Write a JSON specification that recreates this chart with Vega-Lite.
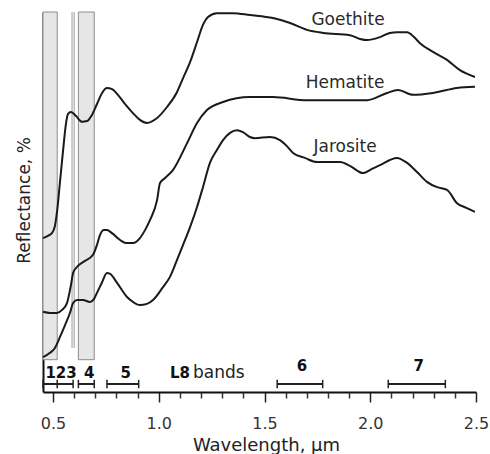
{
  "$schema": "https://vega.github.io/schema/vega-lite/v6.json",
  "width": 433,
  "height": 380,
  "autosize": "none",
  "padding": {"left": 43, "top": 12, "right": 14, "bottom": 62},
  "background": "white",
  "config": {"view": {"stroke": null}, "font": "DejaVu Sans"},
  "resolve": {"axis": {"x": "independent"}},
  "datasets": {
    "windows": [
      {"start": 0.4527, "end": 0.52},
      {"start": 0.62, "end": 0.695}
    ],
    "edges": [
      {"at": 0.59},
      {"at": 0.60}
    ],
    "bands": [
      {"label": "123", "start": 0.4527, "end": 0.595, "tier": "low"},
      {"label": "4", "start": 0.62, "end": 0.695, "tier": "low"},
      {"label": "5", "start": 0.755, "end": 0.905, "tier": "low"},
      {"label": "6", "start": 1.56, "end": 1.775, "tier": "high"},
      {"label": "7", "start": 2.085, "end": 2.355, "tier": "high"}
    ],
    "names": [
      {"mineral": "Goethite", "wavelength": 1.895, "reflectance": 97.9},
      {"mineral": "Hematite", "wavelength": 1.881, "reflectance": 81.3},
      {"mineral": "Jarosite", "wavelength": 1.881, "reflectance": 64.5}
    ],
    "spectra": [
      {"mineral": "Goethite", "wavelength": 0.453, "reflectance": 40.5},
      {"mineral": "Goethite", "wavelength": 0.476, "reflectance": 41.1},
      {"mineral": "Goethite", "wavelength": 0.495, "reflectance": 41.8},
      {"mineral": "Goethite", "wavelength": 0.509, "reflectance": 43.7},
      {"mineral": "Goethite", "wavelength": 0.519, "reflectance": 47.4},
      {"mineral": "Goethite", "wavelength": 0.533, "reflectance": 55.3},
      {"mineral": "Goethite", "wavelength": 0.547, "reflectance": 63.2},
      {"mineral": "Goethite", "wavelength": 0.561, "reflectance": 70.5},
      {"mineral": "Goethite", "wavelength": 0.571, "reflectance": 73.2},
      {"mineral": "Goethite", "wavelength": 0.585, "reflectance": 73.7},
      {"mineral": "Goethite", "wavelength": 0.609, "reflectance": 72.6},
      {"mineral": "Goethite", "wavelength": 0.637, "reflectance": 71.1},
      {"mineral": "Goethite", "wavelength": 0.661, "reflectance": 71.3},
      {"mineral": "Goethite", "wavelength": 0.684, "reflectance": 72.9},
      {"mineral": "Goethite", "wavelength": 0.708, "reflectance": 75.8},
      {"mineral": "Goethite", "wavelength": 0.732, "reflectance": 78.7},
      {"mineral": "Goethite", "wavelength": 0.755, "reflectance": 80.0},
      {"mineral": "Goethite", "wavelength": 0.779, "reflectance": 79.7},
      {"mineral": "Goethite", "wavelength": 0.807, "reflectance": 78.2},
      {"mineral": "Goethite", "wavelength": 0.840, "reflectance": 75.8},
      {"mineral": "Goethite", "wavelength": 0.878, "reflectance": 73.4},
      {"mineral": "Goethite", "wavelength": 0.911, "reflectance": 71.6},
      {"mineral": "Goethite", "wavelength": 0.944, "reflectance": 70.8},
      {"mineral": "Goethite", "wavelength": 0.992, "reflectance": 72.1},
      {"mineral": "Goethite", "wavelength": 1.039, "reflectance": 75.0},
      {"mineral": "Goethite", "wavelength": 1.086, "reflectance": 78.9},
      {"mineral": "Goethite", "wavelength": 1.115, "reflectance": 82.6},
      {"mineral": "Goethite", "wavelength": 1.148, "reflectance": 86.8},
      {"mineral": "Goethite", "wavelength": 1.181, "reflectance": 92.1},
      {"mineral": "Goethite", "wavelength": 1.209, "reflectance": 96.6},
      {"mineral": "Goethite", "wavelength": 1.233, "reflectance": 98.7},
      {"mineral": "Goethite", "wavelength": 1.275, "reflectance": 99.7},
      {"mineral": "Goethite", "wavelength": 1.351, "reflectance": 99.7},
      {"mineral": "Goethite", "wavelength": 1.431, "reflectance": 99.2},
      {"mineral": "Goethite", "wavelength": 1.540, "reflectance": 98.4},
      {"mineral": "Goethite", "wavelength": 1.621, "reflectance": 97.1},
      {"mineral": "Goethite", "wavelength": 1.701, "reflectance": 95.3},
      {"mineral": "Goethite", "wavelength": 1.777, "reflectance": 94.5},
      {"mineral": "Goethite", "wavelength": 1.904, "reflectance": 93.9},
      {"mineral": "Goethite", "wavelength": 1.952, "reflectance": 92.9},
      {"mineral": "Goethite", "wavelength": 1.985, "reflectance": 92.6},
      {"mineral": "Goethite", "wavelength": 2.046, "reflectance": 93.4},
      {"mineral": "Goethite", "wavelength": 2.093, "reflectance": 94.5},
      {"mineral": "Goethite", "wavelength": 2.126, "reflectance": 94.7},
      {"mineral": "Goethite", "wavelength": 2.174, "reflectance": 94.7},
      {"mineral": "Goethite", "wavelength": 2.207, "reflectance": 93.4},
      {"mineral": "Goethite", "wavelength": 2.235, "reflectance": 91.8},
      {"mineral": "Goethite", "wavelength": 2.297, "reflectance": 89.5},
      {"mineral": "Goethite", "wavelength": 2.363, "reflectance": 87.4},
      {"mineral": "Goethite", "wavelength": 2.424, "reflectance": 84.7},
      {"mineral": "Goethite", "wavelength": 2.495, "reflectance": 82.9},
      {"mineral": "Hematite", "wavelength": 0.453, "reflectance": 21.1},
      {"mineral": "Hematite", "wavelength": 0.486, "reflectance": 20.8},
      {"mineral": "Hematite", "wavelength": 0.519, "reflectance": 20.8},
      {"mineral": "Hematite", "wavelength": 0.543, "reflectance": 21.6},
      {"mineral": "Hematite", "wavelength": 0.566, "reflectance": 23.4},
      {"mineral": "Hematite", "wavelength": 0.585, "reflectance": 28.2},
      {"mineral": "Hematite", "wavelength": 0.595, "reflectance": 31.3},
      {"mineral": "Hematite", "wavelength": 0.613, "reflectance": 32.9},
      {"mineral": "Hematite", "wavelength": 0.651, "reflectance": 34.5},
      {"mineral": "Hematite", "wavelength": 0.689, "reflectance": 36.1},
      {"mineral": "Hematite", "wavelength": 0.708, "reflectance": 38.7},
      {"mineral": "Hematite", "wavelength": 0.722, "reflectance": 41.3},
      {"mineral": "Hematite", "wavelength": 0.741, "reflectance": 42.6},
      {"mineral": "Hematite", "wavelength": 0.755, "reflectance": 42.6},
      {"mineral": "Hematite", "wavelength": 0.779, "reflectance": 41.8},
      {"mineral": "Hematite", "wavelength": 0.817, "reflectance": 40.0},
      {"mineral": "Hematite", "wavelength": 0.845, "reflectance": 39.2},
      {"mineral": "Hematite", "wavelength": 0.878, "reflectance": 39.2},
      {"mineral": "Hematite", "wavelength": 0.911, "reflectance": 40.5},
      {"mineral": "Hematite", "wavelength": 0.935, "reflectance": 42.6},
      {"mineral": "Hematite", "wavelength": 0.959, "reflectance": 45.3},
      {"mineral": "Hematite", "wavelength": 0.992, "reflectance": 50.5},
      {"mineral": "Hematite", "wavelength": 1.006, "reflectance": 55.0},
      {"mineral": "Hematite", "wavelength": 1.030, "reflectance": 56.3},
      {"mineral": "Hematite", "wavelength": 1.067, "reflectance": 58.4},
      {"mineral": "Hematite", "wavelength": 1.134, "reflectance": 65.5},
      {"mineral": "Hematite", "wavelength": 1.181, "reflectance": 70.8},
      {"mineral": "Hematite", "wavelength": 1.228, "reflectance": 74.2},
      {"mineral": "Hematite", "wavelength": 1.304, "reflectance": 76.3},
      {"mineral": "Hematite", "wavelength": 1.431, "reflectance": 77.6},
      {"mineral": "Hematite", "wavelength": 1.540, "reflectance": 77.6},
      {"mineral": "Hematite", "wavelength": 1.701, "reflectance": 76.8},
      {"mineral": "Hematite", "wavelength": 1.857, "reflectance": 76.8},
      {"mineral": "Hematite", "wavelength": 1.985, "reflectance": 76.8},
      {"mineral": "Hematite", "wavelength": 2.079, "reflectance": 78.7},
      {"mineral": "Hematite", "wavelength": 2.131, "reflectance": 79.5},
      {"mineral": "Hematite", "wavelength": 2.202, "reflectance": 78.2},
      {"mineral": "Hematite", "wavelength": 2.297, "reflectance": 78.7},
      {"mineral": "Hematite", "wavelength": 2.410, "reflectance": 80.0},
      {"mineral": "Hematite", "wavelength": 2.495, "reflectance": 80.3},
      {"mineral": "Jarosite", "wavelength": 0.453, "reflectance": 9.2},
      {"mineral": "Jarosite", "wavelength": 0.486, "reflectance": 10.3},
      {"mineral": "Jarosite", "wavelength": 0.509, "reflectance": 11.6},
      {"mineral": "Jarosite", "wavelength": 0.533, "reflectance": 14.5},
      {"mineral": "Jarosite", "wavelength": 0.557, "reflectance": 17.6},
      {"mineral": "Jarosite", "wavelength": 0.580, "reflectance": 20.8},
      {"mineral": "Jarosite", "wavelength": 0.595, "reflectance": 23.4},
      {"mineral": "Jarosite", "wavelength": 0.613, "reflectance": 24.2},
      {"mineral": "Jarosite", "wavelength": 0.642, "reflectance": 24.2},
      {"mineral": "Jarosite", "wavelength": 0.675, "reflectance": 23.7},
      {"mineral": "Jarosite", "wavelength": 0.694, "reflectance": 24.5},
      {"mineral": "Jarosite", "wavelength": 0.708, "reflectance": 26.1},
      {"mineral": "Jarosite", "wavelength": 0.732, "reflectance": 28.9},
      {"mineral": "Jarosite", "wavelength": 0.755, "reflectance": 31.3},
      {"mineral": "Jarosite", "wavelength": 0.770, "reflectance": 31.1},
      {"mineral": "Jarosite", "wavelength": 0.803, "reflectance": 28.7},
      {"mineral": "Jarosite", "wavelength": 0.850, "reflectance": 25.0},
      {"mineral": "Jarosite", "wavelength": 0.878, "reflectance": 23.7},
      {"mineral": "Jarosite", "wavelength": 0.911, "reflectance": 22.9},
      {"mineral": "Jarosite", "wavelength": 0.944, "reflectance": 23.2},
      {"mineral": "Jarosite", "wavelength": 0.973, "reflectance": 24.2},
      {"mineral": "Jarosite", "wavelength": 1.020, "reflectance": 27.6},
      {"mineral": "Jarosite", "wavelength": 1.053, "reflectance": 30.3},
      {"mineral": "Jarosite", "wavelength": 1.086, "reflectance": 34.7},
      {"mineral": "Jarosite", "wavelength": 1.115, "reflectance": 38.7},
      {"mineral": "Jarosite", "wavelength": 1.148, "reflectance": 43.4},
      {"mineral": "Jarosite", "wavelength": 1.181, "reflectance": 48.7},
      {"mineral": "Jarosite", "wavelength": 1.209, "reflectance": 53.9},
      {"mineral": "Jarosite", "wavelength": 1.242, "reflectance": 60.3},
      {"mineral": "Jarosite", "wavelength": 1.275, "reflectance": 63.7},
      {"mineral": "Jarosite", "wavelength": 1.304, "reflectance": 66.3},
      {"mineral": "Jarosite", "wavelength": 1.337, "reflectance": 68.2},
      {"mineral": "Jarosite", "wavelength": 1.370, "reflectance": 68.9},
      {"mineral": "Jarosite", "wavelength": 1.398, "reflectance": 68.4},
      {"mineral": "Jarosite", "wavelength": 1.431, "reflectance": 67.1},
      {"mineral": "Jarosite", "wavelength": 1.455, "reflectance": 66.8},
      {"mineral": "Jarosite", "wavelength": 1.526, "reflectance": 67.1},
      {"mineral": "Jarosite", "wavelength": 1.573, "reflectance": 66.3},
      {"mineral": "Jarosite", "wavelength": 1.606, "reflectance": 64.7},
      {"mineral": "Jarosite", "wavelength": 1.635, "reflectance": 62.9},
      {"mineral": "Jarosite", "wavelength": 1.691, "reflectance": 61.6},
      {"mineral": "Jarosite", "wavelength": 1.748, "reflectance": 60.5},
      {"mineral": "Jarosite", "wavelength": 1.857, "reflectance": 60.5},
      {"mineral": "Jarosite", "wavelength": 1.904, "reflectance": 59.5},
      {"mineral": "Jarosite", "wavelength": 1.966, "reflectance": 57.6},
      {"mineral": "Jarosite", "wavelength": 2.008, "reflectance": 58.7},
      {"mineral": "Jarosite", "wavelength": 2.046, "reflectance": 59.7},
      {"mineral": "Jarosite", "wavelength": 2.126, "reflectance": 61.6},
      {"mineral": "Jarosite", "wavelength": 2.174, "reflectance": 60.3},
      {"mineral": "Jarosite", "wavelength": 2.221, "reflectance": 57.9},
      {"mineral": "Jarosite", "wavelength": 2.268, "reflectance": 55.3},
      {"mineral": "Jarosite", "wavelength": 2.316, "reflectance": 53.9},
      {"mineral": "Jarosite", "wavelength": 2.363, "reflectance": 53.2},
      {"mineral": "Jarosite", "wavelength": 2.410, "reflectance": 49.7},
      {"mineral": "Jarosite", "wavelength": 2.457, "reflectance": 48.4},
      {"mineral": "Jarosite", "wavelength": 2.495, "reflectance": 47.4}
    ]
  },
  "layer": [
    {
      "data": {"name": "windows"},
      "mark": {"type": "rect", "fill": "#e6e6e6", "stroke": "#8c8c8c", "strokeWidth": 1},
      "encoding": {
        "x": {
          "field": "start", "type": "quantitative",
          "scale": {"domain": [0.4527, 2.5], "nice": false, "zero": false},
          "axis": {
            "orient": "bottom",
            "title": "Wavelength, µm",
            "values": [0.5, 1.0, 1.5, 2.0, 2.5],
            "format": ".1f",
            "tickSize": 10,
            "grid": false,
            "domainColor": "#111111",
            "domainWidth": 2,
            "tickColor": "#222222",
            "tickWidth": 1.5,
            "labelFont": "DejaVu Sans",
            "labelFontSize": 16,
            "labelColor": "#333333",
            "labelPadding": 13,
            "labelFlush": false,
            "labelOverlap": false,
            "titleFont": "DejaVu Sans",
            "titleFontSize": 18,
            "titleFontWeight": "normal",
            "titleColor": "#222222",
            "titleX": 223,
            "titleY": 53,
            "titleAlign": "center",
            "titleBaseline": "middle"
          }
        },
        "x2": {"field": "end"},
        "y": {
          "datum": 8.5, "type": "quantitative",
          "scale": {"domain": [0, 100], "nice": false, "zero": false},
          "axis": {
            "title": "Reflectance, %",
            "labels": false,
            "ticks": false,
            "grid": false,
            "domainColor": "#111111",
            "domainWidth": 2,
            "titleFont": "DejaVu Sans",
            "titleFontSize": 17,
            "titleFontWeight": "normal",
            "titleColor": "#222222",
            "titleAngle": 270,
            "titleX": -19,
            "titleY": 188,
            "titleAlign": "center",
            "titleBaseline": "middle"
          }
        },
        "y2": {"datum": 100}
      }
    },
    {
      "data": {"name": "edges"},
      "mark": {"type": "rule", "stroke": "#9a9a9a", "strokeWidth": 1},
      "encoding": {
        "x": {
          "field": "at", "type": "quantitative",
          "axis": {
            "orient": "bottom",
            "title": null,
            "values": [0.6, 0.7, 0.8, 0.9, 1.1, 1.2, 1.3, 1.4, 1.6, 1.7, 1.8, 1.9, 2.1, 2.2, 2.3, 2.4],
            "labels": false,
            "domain": false,
            "grid": false,
            "tickSize": 6,
            "tickWidth": 1.5,
            "tickColor": "#333333"
          }
        },
        "y": {"datum": 11.6, "type": "quantitative"},
        "y2": {"datum": 100}
      }
    },
    {
      "data": {"name": "spectra"},
      "mark": {"type": "line", "interpolate": "monotone", "stroke": "#1a1a1a", "strokeWidth": 2},
      "encoding": {
        "x": {"field": "wavelength", "type": "quantitative", "axis": null},
        "y": {"field": "reflectance", "type": "quantitative"},
        "detail": {"field": "mineral"}
      }
    },
    {
      "data": {"name": "names"},
      "mark": {"type": "text", "font": "DejaVu Sans", "fontSize": 17, "fill": "#2a2a2a", "align": "center", "baseline": "middle"},
      "encoding": {
        "x": {"field": "wavelength", "type": "quantitative", "axis": null},
        "y": {"field": "reflectance", "type": "quantitative"},
        "text": {"field": "mineral"}
      }
    },
    {
      "data": {"name": "bands"},
      "mark": {"type": "rule", "stroke": "#222222", "strokeWidth": 2},
      "encoding": {
        "x": {"field": "start", "type": "quantitative", "axis": null},
        "x2": {"field": "end"},
        "y": {"datum": 2.1, "type": "quantitative"}
      }
    },
    {
      "data": {"name": "bands"},
      "mark": {"type": "rule", "stroke": "#222222", "strokeWidth": 1.5},
      "encoding": {
        "x": {"field": "start", "type": "quantitative", "axis": null},
        "y": {"datum": 1.0, "type": "quantitative"},
        "y2": {"datum": 3.2}
      }
    },
    {
      "data": {"name": "bands"},
      "mark": {"type": "rule", "stroke": "#222222", "strokeWidth": 1.5},
      "encoding": {
        "x": {"field": "end", "type": "quantitative", "axis": null},
        "y": {"datum": 1.0, "type": "quantitative"},
        "y2": {"datum": 3.2}
      }
    },
    {
      "data": {"values": [{"boundary": 0.52}]},
      "mark": {"type": "rule", "stroke": "#222222", "strokeWidth": 1.5},
      "encoding": {
        "x": {"field": "boundary", "type": "quantitative", "axis": null},
        "y": {"datum": 1.0, "type": "quantitative"},
        "y2": {"datum": 3.2}
      }
    },
    {
      "data": {"name": "bands"},
      "transform": [
        {"filter": "datum.tier === 'low'"},
        {"calculate": "(datum.start + datum.end) / 2", "as": "mid"}
      ],
      "mark": {"type": "text", "font": "DejaVu Sans", "fontWeight": "bold", "fontSize": 15, "fill": "#111111", "align": "center", "baseline": "middle", "dx": 3},
      "encoding": {
        "x": {"field": "mid", "type": "quantitative", "axis": null},
        "y": {"datum": 5.0, "type": "quantitative"},
        "text": {"field": "label"}
      }
    },
    {
      "data": {"name": "bands"},
      "transform": [
        {"filter": "datum.tier === 'high'"},
        {"calculate": "(datum.start + datum.end) / 2", "as": "mid"}
      ],
      "mark": {"type": "text", "font": "DejaVu Sans", "fontWeight": "bold", "fontSize": 15, "fill": "#111111", "align": "center", "baseline": "middle", "dx": 2},
      "encoding": {
        "x": {"field": "mid", "type": "quantitative", "axis": null},
        "y": {"datum": 6.8, "type": "quantitative"},
        "text": {"field": "label"}
      }
    },
    {
      "data": {"values": [{"caption": "L8"}]},
      "mark": {"type": "text", "font": "DejaVu Sans", "fontWeight": "bold", "fontSize": 15, "fill": "#111111", "align": "left", "baseline": "middle"},
      "encoding": {
        "x": {"datum": 1.053, "type": "quantitative", "axis": null},
        "y": {"datum": 5.0, "type": "quantitative"},
        "text": {"field": "caption"}
      }
    },
    {
      "data": {"values": [{"caption": "bands"}]},
      "mark": {"type": "text", "font": "DejaVu Sans", "fontSize": 17, "fill": "#222222", "align": "left", "baseline": "middle"},
      "encoding": {
        "x": {"datum": 1.162, "type": "quantitative", "axis": null},
        "y": {"datum": 5.0, "type": "quantitative"},
        "text": {"field": "caption"}
      }
    }
  ]
}
